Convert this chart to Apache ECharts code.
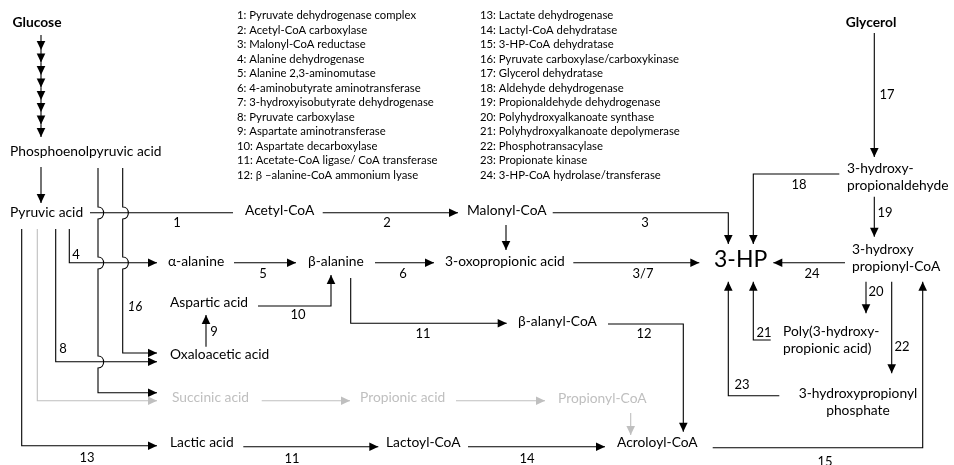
<!DOCTYPE html>
<html>
<head>
<meta charset="utf-8">
<script src="https://cdn.jsdelivr.net/npm/echarts@6/dist/echarts.min.js"></script>
<style>
  html, body { margin: 0; padding: 0; background: #fff; }
  #chart { width: 954px; height: 465px; }
</style>
</head>
<body>
<div id="chart"></div>
<script>
// compounds: name, x, y, anchor (l = left edge, c = centre), kind
var compounds = [
  ["Glucose", 37, 23, "c", "bold"],
  ["Glycerol", 871, 23, "c", "bold"],
  ["Phosphoenolpyruvic acid", 10, 152, "l", ""],
  ["Pyruvic acid", 10, 213, "l", ""],
  ["Acetyl-CoA", 245, 211, "l", ""],
  ["Malonyl-CoA", 467, 211, "l", ""],
  ["α-alanine", 168, 262, "l", ""],
  ["β-alanine", 308, 262, "l", ""],
  ["3-oxopropionic acid", 445, 262, "l", ""],
  ["Aspartic acid", 170, 303, "l", ""],
  ["β-alanyl-CoA", 518, 322, "l", ""],
  ["Oxaloacetic acid", 170, 355, "l", ""],
  ["Succinic acid", 172, 398, "l", "grey"],
  ["Propionic acid", 360, 398, "l", "grey"],
  ["Propionyl-CoA", 558, 399, "l", "grey"],
  ["Lactic acid", 170, 443, "l", ""],
  ["Lactoyl-CoA", 386, 443, "l", ""],
  ["Acroloyl-CoA", 617, 443, "l", ""],
  ["3-HP", 714, 260, "l", "big"],
  ["3-hydroxy-\npropionaldehyde", 847, 177, "l", ""],
  ["3-hydroxy\npropionyl-CoA", 852, 258, "l", ""],
  ["Poly(3-hydroxy-\npropionic acid)", 783, 340, "l", ""],
  ["3-hydroxypropionyl\nphosphate", 858, 402, "c", ""]
];

// reaction numbers on the arrows
var stepLabels = [
  ["1", 177, 223], ["2", 387, 223], ["3", 645, 223], ["4", 76, 255],
  ["5", 263, 274], ["6", 403, 274], ["3/7", 643, 274], ["24", 812, 274],
  ["8", 63, 349], ["9", 214, 332], ["10", 298, 315], ["11", 423, 334],
  ["12", 644, 334], ["13", 87, 458], ["11", 292, 459], ["14", 527, 459],
  ["15", 825, 462], ["16", 135, 307], ["17", 887, 95], ["18", 799, 185],
  ["19", 885, 213], ["20", 876, 292], ["21", 764, 333], ["22", 902, 347],
  ["23", 742, 385]
];

var enzymes = [
  "1: Pyruvate dehydrogenase complex",
  "2: Acetyl-CoA carboxylase",
  "3: Malonyl-CoA reductase",
  "4: Alanine dehydrogenase",
  "5: Alanine 2,3-aminomutase",
  "6: 4-aminobutyrate aminotransferase",
  "7: 3-hydroxyisobutyrate dehydrogenase",
  "8: Pyruvate carboxylase",
  "9: Aspartate aminotransferase",
  "10: Aspartate decarboxylase",
  "11: Acetate-CoA ligase/ CoA transferase",
  "12: β –alanine-CoA ammonium lyase",
  "13: Lactate dehydrogenase",
  "14: Lactyl-CoA dehydratase",
  "15: 3-HP-CoA dehydratase",
  "16: Pyruvate carboxylase/carboxykinase",
  "17: Glycerol dehydratase",
  "18: Aldehyde dehydrogenase",
  "19: Propionaldehyde dehydrogenase",
  "20: Polyhydroxyalkanoate synthase",
  "21: Polyhydroxyalkanoate depolymerase",
  "22: Phosphotransacylase",
  "23: Propionate kinase",
  "24: 3-HP-CoA hydrolase/transferase"
];

// arrows: polyline points, grey?, y of hops on vertical part, no head?
var glucoseTips = [50, 62.5, 75, 87.5, 100, 112, 124.5, 137];
var arrows = [
  [[[41, 167], [41, 203]]],
  [[[90, 212.7], [233, 212.7]], false, null, true],
  [[[322.7, 212.7], [458, 212.7]]],
  [[[552.7, 212.7], [728.3, 212.7], [728.3, 244]]],
  [[[506, 225], [506, 250]]],
  [[[69.3, 229], [69.3, 262.7], [157, 262.7]]],
  [[[234, 262.7], [296, 262.7]]],
  [[[375, 262.7], [434, 262.7]]],
  [[[573.3, 262.7], [699.3, 262.7]]],
  [[[845, 262.7], [773.3, 262.7]]],
  [[[258, 306], [331, 306], [331, 275]]],
  [[[206, 346.7], [206, 315]]],
  [[[350.7, 278], [350.7, 323.3], [506.7, 323.3]]],
  [[[608, 324], [683.3, 324], [683.3, 431.7]]],
  [[[122.7, 168], [122.7, 353], [157, 353]], false, [213, 263]],
  [[[98, 168], [98, 392.7], [157, 392.7]], false, [213, 263, 362]],
  [[[55.7, 229], [55.7, 361.7], [157, 361.7]]],
  [[[37.3, 229], [37.3, 400.7], [157, 400.7]], true],
  [[[261.7, 400.7], [350, 400.7]], true],
  [[[456, 400.7], [545, 400.7]], true],
  [[[630.7, 413], [630.7, 435]], true],
  [[[21.7, 229], [21.7, 445.7], [157, 445.7]]],
  [[[243.3, 446.7], [378.3, 446.7]]],
  [[[468, 446.7], [605, 446.7]]],
  [[[712.7, 447.7], [922.7, 447.7], [922.7, 281.7]]],
  [[[874.3, 33], [874.3, 157]]],
  [[[839.3, 174], [753.3, 174], [753.3, 244]]],
  [[[874.3, 196.7], [874.3, 236.7]]],
  [[[866, 281.7], [866, 313.3]]],
  [[[891.7, 281.7], [891.7, 373.3]]],
  [[[770.7, 340], [753.3, 340], [753.3, 281.7]]],
  [[[779.3, 395.7], [728.3, 395.7], [728.3, 281.7]]]
];
var prev = 35;
glucoseTips.forEach(function (t) {
  arrows.push([[[41, prev], [41, t]]]);
  prev = t;
});

var FONT = "Lato, 'Open Sans', sans-serif";
var BLACK = "#000";
var GREY = "#bfbfbf";

var myChart = echarts.init(document.getElementById("chart"));

function renderArrow(params, api) {
  var a = arrows[params.dataIndex];
  var pts = a[0].map(function (p) { return api.coord(p); });
  var color = a[1] ? GREY : BLACK;
  var hops = a[2] || [];
  var d = "M" + pts[0][0] + " " + pts[0][1];
  for (var i = 1; i < pts.length; i++) {
    var p0 = pts[i - 1], p1 = pts[i];
    if (p0[0] === p1[0] && hops.length) {
      hops.forEach(function (hy) {
        var c = api.coord([0, hy])[1];
        if (c > Math.min(p0[1], p1[1]) && c < Math.max(p0[1], p1[1])) {
          d += " L" + p0[0] + " " + (c - 6);
          d += " C" + (p0[0] + 7.5) + " " + (c - 6) + " " + (p0[0] + 7.5) + " " + (c + 6) + " " + p0[0] + " " + (c + 6);
        }
      });
    }
    d += " L" + p1[0] + " " + p1[1];
  }
  var children = [{
    type: "path",
    shape: { pathData: d },
    style: { stroke: color, lineWidth: 1.1, fill: null }
  }];
  if (!a[3]) {
    var e = pts[pts.length - 1], s = pts[pts.length - 2];
    var dx = e[0] - s[0], dy = e[1] - s[1];
    var len = Math.sqrt(dx * dx + dy * dy);
    var ux = dx / len, uy = dy / len;
    var L = 9, W = 4.3;
    var bx = e[0] - ux * L, by = e[1] - uy * L;
    children.push({
      type: "polygon",
      shape: { points: [e, [bx - uy * W, by + ux * W], [bx + uy * W, by - ux * W]] },
      style: { fill: color }
    });
  }
  return { type: "group", children: children };
}

function textEl(pos, text, style) {
  return {
    type: "text",
    x: pos[0],
    y: pos[1],
    style: Object.assign({
      text: text,
      fill: BLACK,
      fontFamily: FONT,
      fontSize: 13.8,
      verticalAlign: "middle",
      align: "center"
    }, style)
  };
}

var option = {
  animation: false,
  grid: { left: 0, right: 0, top: 0, bottom: 0 },
  xAxis: { type: "value", min: 0, max: 954, show: false },
  yAxis: { type: "value", min: 0, max: 465, inverse: true, show: false },
  series: [
    {
      type: "custom",
      renderItem: renderArrow,
      data: arrows.map(function (a) { return a[0][0]; })
    },
    {
      type: "custom",
      renderItem: function (params, api) {
        var c = compounds[params.dataIndex];
        var st = { align: c[3] === "l" ? "left" : "center", lineHeight: 17.5 };
        if (c[4] === "bold") st.fontWeight = "bold";
        if (c[4] === "grey") st.fill = GREY;
        if (c[4] === "big") st.fontSize = 23;
        return textEl(api.coord([c[1], c[2]]), c[0], st);
      },
      data: compounds.map(function (c) { return [c[1], c[2]]; })
    },
    {
      type: "custom",
      renderItem: function (params, api) {
        var s = stepLabels[params.dataIndex];
        var st = { fontSize: 13 };
        if (s[0] === "16") st.fontStyle = "italic";
        return textEl(api.coord([s[1], s[2]]), s[0], st);
      },
      data: stepLabels.map(function (s) { return [s[1], s[2]]; })
    },
    {
      type: "custom",
      renderItem: function (params, api) {
        var i = params.dataIndex;
        var x = i < 12 ? 237 : 480;
        var y = 15.7 + (i % 12) * 14.5;
        return textEl(api.coord([x, y]), enzymes[i], { align: "left", fontSize: 11.3 });
      },
      data: enzymes.map(function (e, i) { return [i < 12 ? 237 : 480, 15.7 + (i % 12) * 14.5]; })
    }
  ]
};

option && myChart.setOption(option);
</script>
</body>
</html>
